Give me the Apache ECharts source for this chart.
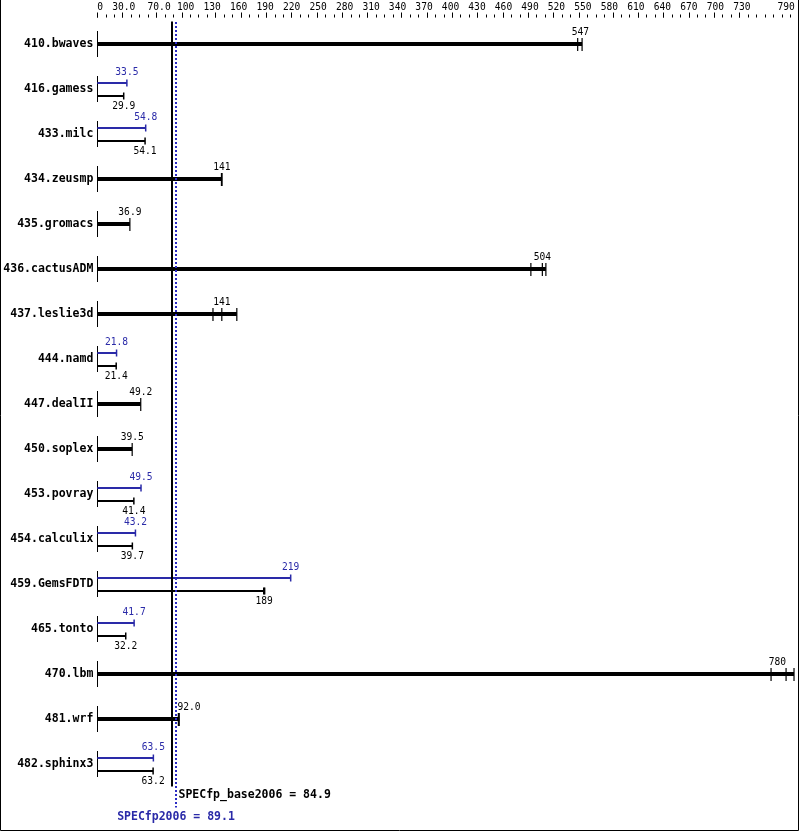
<!DOCTYPE html>
<html>
<head>
<meta charset="utf-8">
<script src="https://cdn.jsdelivr.net/npm/echarts@6/dist/echarts.min.js"></script>
<style>
  html, body { margin: 0; padding: 0; background: #fff; }
  #chart { width: 799px; height: 831px; }
</style>
</head>
<body>
<div id="chart"></div>
<script>
// benchmark rows, top to bottom
const benchmarks = ['410.bwaves', '416.gamess', '433.milc', '434.zeusmp', '435.gromacs', '436.cactusADM',
    '437.leslie3d', '444.namd', '447.dealII', '450.soplex', '453.povray', '454.calculix',
    '459.GemsFDTD', '465.tonto', '470.lbm', '481.wrf', '482.sphinx3'];
// base ratio (black) and the individual run ratios that get a tick each
const baseScores = [547, 29.9, 54.1, 141, 36.9, 504, 141, 21.4, 49.2, 39.5, 41.4, 39.7, 189, 32.2, 780, 92.0, 63.2];
const baseRuns = [[544, 549], [29.9], [54.1], [140.6, 141.3], [36.9], [491, 504, 508], [131, 141, 158],
    [21.4], [49.2], [39.5], [41.4], [39.7], [188.5, 189.5], [32.2], [763, 780, 789], [91.8, 92.8], [63.2]];
// peak ratio (blue), null where only base is shown
const peakScores = [null, 33.5, 54.8, null, null, null, null, 21.8, null, null, 49.5, 43.2, 219, 41.7, null, null, 63.5];
// labels along the top scale
const axisLabelValues = [0, 30, 70, 100, 130, 160, 190, 220, 250, 280, 310, 340, 370, 400, 430, 460,
    490, 520, 550, 580, 610, 640, 670, 700, 730, 790];
// overall results
const refNames = ['SPECfp_base2006 = 84.9', 'SPECfp2006 = 89.1'];
const refValues = [84.9, 89.1];

const AXIS_MAX = 790;
// the small scale ticks in the original run on their own spacing (~9.57 units)
const TICK_AXIS_MAX = 82.55;
const BLUE = '#2a2aa8';
const DOT_BLUE = '#2b2bc4';
const MONO = '"DejaVu Sans Mono", "Liberation Mono", monospace';
const VAL_FONT = '9.6px ' + MONO;
const BOLD_FONT = 'bold 11.5px ' + MONO;

function fmt(v) {
    if (v === 0) return '0';
    return v >= 100 ? v.toFixed(0) : v.toFixed(1);
}

const minorTicks = [];
for (let k = 0; k <= 82; k += 1) minorTicks.push(k);
const majorTicks = axisLabelValues.map(v => Math.round(v / (AXIS_MAX / TICK_AXIS_MAX)));

function seg(x1, y1, x2, y2, color, width, dash) {
    return {
        type: 'line',
        shape: { x1, y1, x2, y2 },
        style: { stroke: color, lineWidth: width, lineDash: dash || null }
    };
}

function txt(text, x, y, color, font, align) {
    return {
        type: 'text',
        style: { text, x, y, fill: color, font, align: align || 'center', verticalAlign: 'middle' }
    };
}

// value label centred on the score, kept clear of the right edge and of the result lines
function valueLabel(text, x, y, color, xmax, refRight) {
    if (x + 10 > xmax - 8) return txt(text, x, y, color, VAL_FONT, 'right');
    const halfW = text.length * 2.9;
    if (x - halfW < refRight && x + halfW > refRight - 8) {
        return txt(text, refRight + 1.5, y, color, VAL_FONT, 'left');
    }
    return txt(text, x, y, color, VAL_FONT, 'center');
}

function renderRow(params, api) {
    const i = api.value(0);
    const score = api.value(1);
    const runs = baseRuns[i];
    const peak = peakScores[i];
    const origin = api.coord([0, i]);
    const x0 = origin[0];
    const yc = Math.round(origin[1]);
    const xEnd = api.coord([Math.max(score, ...runs), i])[0];
    const xScore = api.coord([score, i])[0];
    const xmax = api.coord([AXIS_MAX, i])[0];
    const refRight = api.coord([Math.max(...refValues), i])[0];
    const xs = Math.floor(x0) + 0.5;
    const children = [seg(xs, yc - 13, xs, yc + 13, '#000', 1)];

    if (peak == null) {
        children.push(seg(x0, yc, xEnd, yc, '#000', 4));
        runs.forEach(r => {
            const rx = api.coord([r, i])[0];
            children.push(seg(rx, yc - 6, rx, yc + 7, '#000', 1.2));
        });
        children.push(valueLabel(fmt(score), xScore, yc - 12, '#000', xmax, refRight));
    } else {
        const yp = yc - 6;
        const yb = yc + 7;
        const xp = api.coord([peak, i])[0];
        children.push(seg(x0, yp, xp, yp, BLUE, 2));
        children.push(seg(xp, yp - 3.5, xp, yp + 3.5, BLUE, 1.5));
        children.push(seg(x0, yb, xEnd, yb, '#000', 2));
        runs.forEach(r => {
            const rx = api.coord([r, i])[0];
            children.push(seg(rx, yb - 3.5, rx, yb + 3.5, '#000', 1.5));
        });
        children.push(valueLabel(fmt(peak), xp, yc - 17, BLUE, xmax, refRight));
        children.push(valueLabel(fmt(score), xScore, yc + 17, '#000', xmax, refRight));
    }
    return { type: 'group', children };
}

function renderRef(params, api) {
    const idx = params.dataIndex;
    const v = api.value(0);
    const half = api.size([0, 1])[1] / 2;
    const x = Math.round(api.coord([v, 0])[0]);
    const yTop = api.coord([v, 0])[1] - half;
    const yBot = api.coord([v, benchmarks.length - 1])[1] + half;
    if (idx === 0) {
        return {
            type: 'group',
            children: [
                seg(x, yTop, x, yBot, '#000', 2),
                txt(refNames[idx], x + 6.5, yBot + 8.5, '#000', BOLD_FONT, 'left')
            ]
        };
    }
    return {
        type: 'group',
        children: [
            seg(x, Math.round(yTop), x, yBot + 21, DOT_BLUE, 2, [2, 2]),
            txt(refNames[idx], x, yBot + 30.5, BLUE, BOLD_FONT, 'center')
        ]
    };
}

const chart = echarts.init(document.getElementById('chart'), null, { renderer: 'canvas' });

chart.setOption({
    animation: false,
    backgroundColor: '#fff',
    textStyle: { fontFamily: MONO },
    grid: { left: 97.3, right: 4.1, top: 21.5, bottom: 44.5, outerBoundsMode: 'none' },
    xAxis: [
        {
            type: 'value', min: 0, max: AXIS_MAX, position: 'top', offset: 4,
            axisLine: { show: false }, axisTick: { show: false }, splitLine: { show: false },
            axisLabel: {
                customValues: axisLabelValues,
                formatter: v => fmt(v),
                color: '#000', fontSize: 9.6, fontFamily: MONO, margin: 5,
                alignMinLabel: 'left', alignMaxLabel: 'right'
            }
        },
        {
            type: 'value', min: 0, max: TICK_AXIS_MAX, position: 'top', offset: 4,
            axisLine: { show: false }, splitLine: { show: false }, axisLabel: { show: false },
            axisTick: { show: true, customValues: minorTicks, length: 3, lineStyle: { color: '#000', width: 1 } }
        },
        {
            type: 'value', min: 0, max: TICK_AXIS_MAX, position: 'top', offset: 4,
            axisLine: { show: false }, splitLine: { show: false }, axisLabel: { show: false },
            axisTick: { show: true, customValues: majorTicks, length: 5, lineStyle: { color: '#000', width: 1 } }
        }
    ],
    yAxis: {
        type: 'category', data: benchmarks, inverse: true,
        axisLine: { show: false }, axisTick: { show: false }, splitLine: { show: false },
        axisLabel: { color: '#000', fontSize: 11.5, fontWeight: 'bold', fontFamily: MONO, margin: 4 }
    },
    graphic: [{
        type: 'polyline',
        shape: { points: [[0.5, 0], [0.5, 830.5], [798.5, 830.5], [798.5, 0]] },
        style: { stroke: '#000', lineWidth: 1, fill: null },
        silent: true
    }],
    series: [
        {
            type: 'custom', name: 'rows', xAxisIndex: 0,
            data: benchmarks.map((n, i) => [i, baseScores[i]]),
            encode: { x: 1, y: 0 },
            renderItem: renderRow,
            z: 2
        },
        {
            type: 'custom', name: 'refs', xAxisIndex: 0,
            data: refValues.map(v => [v, 0]),
            encode: { x: 0, y: 1 },
            renderItem: renderRef,
            z: 5
        }
    ]
});
</script>
</body>
</html>
